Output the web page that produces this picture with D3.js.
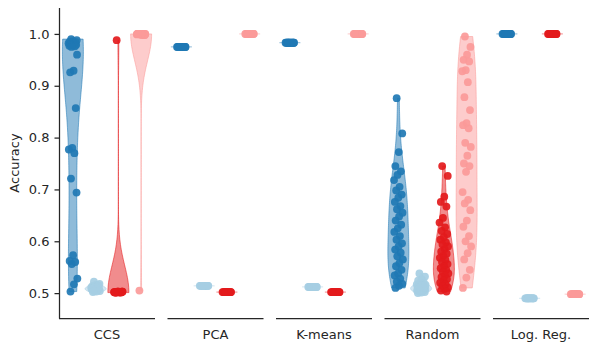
<!DOCTYPE html>
<html>
<head>
  <style>
    body { margin: 0; background: white; }
    text { font-family: "DejaVu Sans", sans-serif; fill: #262626; }
  </style>
</head>
<body>
  <div id="chart"></div>
  <script src="https://d3js.org/d3.v7.min.js"></script>
  <script>
  // methods along the bottom, four hue groups inside each
  const methods = ["CCS", "PCA", "K-means", "Random", "Log. Reg."];
  const hues = ["dark", "light", "red", "pink"];
  const hueColors = ["#1f78b4", "#a6cee3", "#e31a1c", "#fb9a99"];
  const yTicks = [0.5, 0.6, 0.7, 0.8, 0.9, 1.0];

  // values, one list per hue
  const ccs = [
    [0.99, 0.988, 0.986, 0.985, 0.984, 0.983, 0.982, 0.981, 0.98, 0.979, 0.978, 0.977, 0.976, 0.975,
     0.96, 0.929, 0.926, 0.857, 0.78, 0.777, 0.77, 0.721, 0.694, 0.573, 0.562, 0.56, 0.556, 0.528, 0.517, 0.503],
    [0.522, 0.518, 0.516, 0.514, 0.513, 0.512, 0.511, 0.51, 0.51, 0.509, 0.508, 0.507, 0.506, 0.505,
     0.504, 0.503, 0.502, 0.515, 0.511, 0.508, 0.506, 0.504],
    [0.988, 0.503, 0.502, 0.502, 0.501, 0.503, 0.502, 0.501, 0.502, 0.503, 0.502, 0.501, 0.502, 0.502,
     0.503, 0.502, 0.501, 0.502, 0.503, 0.502, 0.502, 0.501, 0.502, 0.503, 0.502],
    [0.505, 1.0, 0.999, 1.0, 0.998, 1.0, 0.999, 1.0, 1.0, 0.998, 0.999, 1.0, 1.0, 0.999, 1.0,
     0.998, 1.0, 0.999, 1.0, 1.0, 0.999, 1.0, 0.998, 1.0, 1.0]
  ];
  const pca = [
    [0.975, 0.975, 0.975, 0.975, 0.975, 0.975, 0.975, 0.975, 0.975, 0.975, 0.975, 0.975, 0.975, 0.975, 0.975],
    [0.514, 0.514, 0.514, 0.514, 0.514, 0.514, 0.514, 0.514, 0.514, 0.514, 0.514, 0.514, 0.514, 0.514, 0.514],
    [0.502, 0.502, 0.502, 0.502, 0.502, 0.502, 0.502, 0.502, 0.502, 0.502, 0.502, 0.502, 0.502, 0.502, 0.502],
    [1.0, 1.0, 1.0, 1.0, 1.0, 1.0, 1.0, 1.0, 1.0, 1.0, 1.0, 1.0, 1.0, 1.0, 1.0]
  ];
  const kmeans = [
    [0.983, 0.983, 0.983, 0.983, 0.983, 0.983, 0.983, 0.983, 0.983, 0.983, 0.983, 0.983, 0.983, 0.983, 0.983],
    [0.512, 0.512, 0.512, 0.512, 0.512, 0.512, 0.512, 0.512, 0.512, 0.512, 0.512, 0.512, 0.512, 0.512, 0.512],
    [0.502, 0.502, 0.502, 0.502, 0.502, 0.502, 0.502, 0.502, 0.502, 0.502, 0.502, 0.502, 0.502, 0.502, 0.502],
    [1.0, 1.0, 1.0, 1.0, 1.0, 1.0, 1.0, 1.0, 1.0, 1.0, 1.0, 1.0, 1.0, 1.0, 1.0]
  ];
  const random = [
    [0.876, 0.808, 0.772, 0.745, 0.735, 0.728, 0.718, 0.705, 0.698, 0.69, 0.684, 0.676, 0.668, 0.662,
     0.655, 0.648, 0.64, 0.632, 0.625, 0.618, 0.61, 0.603, 0.596, 0.59, 0.584, 0.578, 0.571, 0.565,
     0.558, 0.552, 0.545, 0.538, 0.534, 0.528, 0.522, 0.518, 0.514, 0.51],
    [0.538, 0.532, 0.527, 0.524, 0.521, 0.519, 0.517, 0.515, 0.514, 0.513, 0.512, 0.511, 0.51, 0.509,
     0.508, 0.508, 0.507, 0.506, 0.505, 0.505, 0.504, 0.503, 0.502, 0.501, 0.5, 0.51, 0.512, 0.516],
    [0.745, 0.726, 0.686, 0.676, 0.667, 0.645, 0.636, 0.627, 0.62, 0.614, 0.608, 0.603, 0.598, 0.594,
     0.59, 0.585, 0.58, 0.576, 0.572, 0.568, 0.564, 0.56, 0.556, 0.552, 0.548, 0.545, 0.541, 0.538,
     0.534, 0.531, 0.527, 0.524, 0.52, 0.517, 0.514, 0.511, 0.508, 0.505, 0.503],
    [0.995, 0.975, 0.96, 0.95, 0.947, 0.93, 0.928, 0.907, 0.878, 0.853, 0.828, 0.824, 0.818, 0.79, 0.782,
     0.765, 0.75, 0.745, 0.734, 0.695, 0.68, 0.673, 0.66, 0.64, 0.628, 0.61, 0.6, 0.59, 0.577,
     0.565, 0.545, 0.53, 0.51]
  ];
  const logReg = [
    [1.0, 1.0, 1.0, 1.0, 1.0, 1.0, 1.0, 1.0, 1.0, 1.0, 1.0, 1.0, 1.0, 1.0, 1.0],
    [0.49, 0.49, 0.49, 0.49, 0.49, 0.49, 0.49, 0.49, 0.49, 0.49, 0.49, 0.49, 0.49, 0.49, 0.49],
    [1.0, 1.0, 1.0, 1.0, 1.0, 1.0, 1.0, 1.0, 1.0, 1.0, 1.0, 1.0, 1.0, 1.0, 1.0],
    [0.498, 0.498, 0.498, 0.498, 0.498, 0.498, 0.498, 0.498, 0.498, 0.498, 0.498, 0.498, 0.498, 0.498, 0.498]
  ];
  const methodData = [ccs, pca, kmeans, random, logReg];

  const width = 598, height = 355;
  const plotTop = 8, plotBottom = 318;
  const panelWidth = 96;

  const svg = d3.select("#chart").append("svg")
      .attr("width", width)
      .attr("height", height);

  const y = d3.scaleLinear().domain([0.452, 1.05]).range([plotBottom, plotTop]);

  // one panel per method
  const panel = d3.scaleBand().domain(methods).range([59, 59 + 5 * panelWidth + 4 * 12.5]).paddingInner(12.5 / 108.5);
  const hueX = d3.scaleBand().domain(hues).range([2.5, panelWidth - 2.5]);
  const halfWidth = 10.5;

  // gaussian kde, scott bandwidth, cut at the data range
  function kde(values) {
    const n = values.length;
    const sd = d3.deviation(values);
    const lo = d3.min(values), hi = d3.max(values);
    if (!sd || hi - lo < 1e-9) return null;
    const bw = sd * Math.pow(n, -1 / 5);
    const grid = d3.range(0, 101).map(i => lo + (hi - lo) * i / 100);
    return grid.map(g => [g, d3.sum(values, v => Math.exp(-0.5 * ((g - v) / bw) ** 2))]);
  }

  methods.forEach((m, mi) => {
    const g = svg.append("g").attr("transform", "translate(" + panel(m) + ",0)");

    // violins
    hues.forEach((h, hi) => {
      const vals = methodData[mi][hi];
      const cx = hueX(h) + hueX.bandwidth() / 2;
      const dens = kde(vals);
      if (!dens) {
        g.append("line")
          .attr("x1", cx - halfWidth).attr("x2", cx + halfWidth)
          .attr("y1", y(vals[0])).attr("y2", y(vals[0]))
          .attr("stroke", hueColors[hi])
          .attr("stroke-opacity", 0.5)
          .attr("stroke-width", 1);
        return;
      }
      const maxD = d3.max(dens, d => d[1]);
      const w = d3.scaleLinear().domain([0, maxD]).range([0, halfWidth]);
      g.append("path")
        .datum(dens)
        .attr("d", d3.area()
          .y(d => y(d[0]))
          .x0(d => cx - w(d[1]))
          .x1(d => cx + w(d[1])))
        .attr("fill", hueColors[hi])
        .attr("fill-opacity", 0.5)
        .attr("stroke", hueColors[hi])
        .attr("stroke-opacity", 0.55)
        .attr("stroke-width", 1);
    });

    // strip points, jitter spread evenly (golden ratio steps)
    hues.forEach((h, hi) => {
      const vals = methodData[mi][hi];
      const cx = hueX(h) + hueX.bandwidth() / 2;
      g.selectAll(null)
        .data(vals)
        .join("circle")
          .attr("cx", (d, i) => cx + (((i * 0.618034 + 0.31) % 1) - 0.5) * 9)
          .attr("cy", d => y(d))
          .attr("r", 3.9)
          .attr("fill", hueColors[hi])
          .attr("fill-opacity", 0.92);
    });

    // x axis segment
    g.append("line")
      .attr("x1", 0).attr("x2", panelWidth)
      .attr("y1", plotBottom + 0.5).attr("y2", plotBottom + 0.5)
      .attr("stroke", "#262626")
      .attr("stroke-width", 1.25);
    g.append("text")
      .attr("x", panelWidth / 2)
      .attr("y", 339)
      .attr("text-anchor", "middle")
      .attr("font-size", 13)
      .text(m);
  });

  // y axis
  const yAxis = svg.append("g")
      .attr("transform", "translate(59.5,0)")
      .call(d3.axisLeft(y).tickValues(yTicks).tickFormat(d3.format(".1f")).tickSize(5).tickPadding(5));
  yAxis.select(".domain").attr("d", "M0," + plotTop + "V" + (plotBottom + 0.5))
    .attr("stroke", "#262626").attr("stroke-width", 1.25);
  yAxis.selectAll(".tick line").attr("stroke", "#262626").attr("stroke-width", 1.25);
  yAxis.selectAll(".tick text").attr("font-size", 13).attr("font-family", "DejaVu Sans").attr("fill", "#262626");

  svg.append("text")
    .attr("transform", "translate(19," + ((plotTop + plotBottom) / 2) + ") rotate(-90)")
    .attr("text-anchor", "middle")
    .attr("font-size", 13)
    .text("Accuracy");
  </script>
</body>
</html>
